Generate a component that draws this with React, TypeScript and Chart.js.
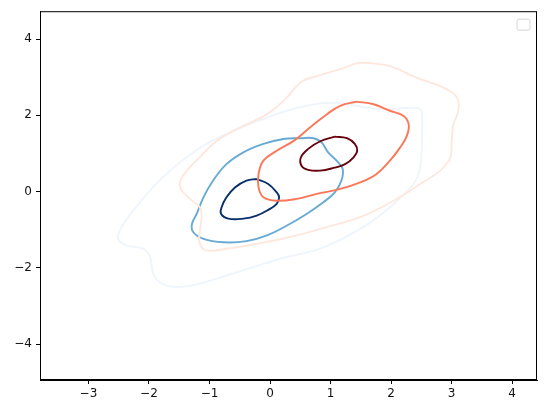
import React, { useEffect, useRef } from "react";
import { Chart, registerables } from "chart.js";

Chart.register(...registerables);

const xTicks = [-3, -2, -1, 0, 1, 2, 3, 4];
const yTicks = [-4, -2, 0, 2, 4];
const xRange = [-3.8, 4.41];
const yRange = [-4.94, 4.73];

// Contour levels for the "Blues" distribution
const blueOuter: number[][] = [
  [2.51, 2.12], [2.51, 1.51], [2.48, 0.64], [2.37, 0.2], [1.98, -0.41], [1.54, -0.93],
  [0.88, -1.46], [0.17, -1.76], [-0.28, -1.98], [-0.72, -2.2], [-1.16, -2.41], [-1.54, -2.5],
  [-1.79, -2.41], [-1.93, -2.15], [-1.98, -1.72], [-2.09, -1.5], [-2.37, -1.41], [-2.51, -1.24],
  [-2.45, -0.93], [-2.26, -0.5], [-1.98, 0.03], [-1.71, 0.46], [-1.38, 0.9], [-1.05, 1.25],
  [-0.72, 1.51], [-0.39, 1.73], [-0.05, 1.94], [0.28, 2.12], [0.61, 2.25], [0.94, 2.33],
  [1.27, 2.29], [1.6, 2.2], [1.93, 2.16], [2.26, 2.19], [2.45, 2.19],
];
const blueMid: number[][] = [
  [0.5, 1.4], [0.72, 1.4], [0.85, 1.29], [0.96, 1.03], [1.1, 0.81], [1.2, 0.59], [1.18, 0.29],
  [1.07, -0.02], [0.88, -0.28], [0.61, -0.58], [0.28, -0.89], [-0.05, -1.15], [-0.39, -1.3],
  [-0.77, -1.33], [-1.1, -1.24], [-1.27, -1.06], [-1.29, -0.85], [-1.21, -0.58], [-1.1, -0.15],
  [-0.94, 0.29], [-0.72, 0.72], [-0.44, 1.03], [-0.11, 1.25], [0.22, 1.38],
];
const blueInner: number[][] = [
  [-0.22, 0.33], [-0.03, 0.2], [0.11, -0.02], [0.15, -0.15], [0.11, -0.32], [-0.03, -0.48],
  [-0.22, -0.63], [-0.44, -0.71], [-0.69, -0.71], [-0.81, -0.58], [-0.8, -0.41], [-0.72, -0.15],
  [-0.58, 0.11], [-0.39, 0.29],
];

// Contour levels for the "Reds" distribution
const redOuter: number[][] = [
  [1.6, 3.38], [1.98, 3.29], [2.42, 2.99], [2.86, 2.73], [3.09, 2.47], [3.11, 2.12], [3.03, 1.77],
  [3.0, 1.33], [2.98, 0.9], [2.81, 0.55], [2.48, 0.2], [2.04, -0.24], [1.49, -0.67], [0.94, -0.93],
  [0.33, -1.19], [-0.22, -1.37], [-0.72, -1.5], [-1.05, -1.54], [-1.16, -1.37], [-1.16, -1.02],
  [-1.13, -0.67], [-1.16, -0.41], [-1.32, -0.19], [-1.46, 0.03], [-1.49, 0.24], [-1.4, 0.5],
  [-1.16, 0.9], [-0.88, 1.33], [-0.5, 1.68], [-0.05, 2.03], [0.28, 2.47], [0.5, 2.86],
  [0.77, 3.03], [1.16, 3.21], [1.43, 3.36],
];
const redMid: number[][] = [
  [1.43, 2.36], [1.71, 2.29], [1.98, 2.12], [2.2, 1.99], [2.29, 1.77], [2.26, 1.46], [2.15, 1.16],
  [1.98, 0.81], [1.76, 0.46], [1.49, 0.24], [1.16, 0.07], [0.77, -0.06], [0.44, -0.19],
  [0.11, -0.24], [-0.11, -0.15], [-0.19, 0.11], [-0.19, 0.46], [-0.11, 0.81], [0.11, 1.07],
  [0.39, 1.33], [0.66, 1.68], [0.94, 2.03], [1.16, 2.25],
];
const redInner: number[][] = [
  [1.07, 1.44], [1.27, 1.4], [1.4, 1.25], [1.44, 1.07], [1.38, 0.9], [1.24, 0.72], [1.05, 0.62],
  [0.83, 0.55], [0.63, 0.57], [0.52, 0.68], [0.51, 0.9], [0.63, 1.12], [0.83, 1.32],
];

const contours: [number[][], string][] = [
  [redInner, "#67000d"],
  [redMid, "#fb7757"],
  [redOuter, "#fee8de"],
  [blueInner, "#08306b"],
  [blueMid, "#67aad4"],
  [blueOuter, "#eef5fc"],
];

const fmt = (v: number) => (v < 0 ? "\u2212" + Math.abs(v) : String(v));

const framePlugin = {
  id: "frame",
  afterDraw(chart: any) {
    const { ctx, chartArea: a } = chart;
    ctx.save();
    ctx.strokeStyle = "#000";
    ctx.lineWidth = 1;
    ctx.strokeRect(a.left + 0.5, a.top + 0.5, a.right - a.left - 1, a.bottom - a.top - 1);
    // empty legend box
    const w = 13, h = 11, x = a.right - 20, y = a.top + 8, r = 2;
    ctx.beginPath();
    ctx.moveTo(x + r, y);
    ctx.arcTo(x + w, y, x + w, y + h, r);
    ctx.arcTo(x + w, y + h, x, y + h, r);
    ctx.arcTo(x, y + h, x, y, r);
    ctx.arcTo(x, y, x + w, y, r);
    ctx.closePath();
    ctx.fillStyle = "rgba(255,255,255,0.8)";
    ctx.fill();
    ctx.strokeStyle = "#d6d6d6";
    ctx.stroke();
    ctx.restore();
  },
};

export default function App() {
  const ref = useRef<HTMLCanvasElement>(null);
  useEffect(() => {
    const datasets = contours.map(([pts, color]) => {
      const data = pts.map((p) => ({ x: p[0], y: p[1] }));
      data.push({ x: pts[0][0], y: pts[0][1] });
      return {
        data,
        showLine: true,
        borderColor: color,
        backgroundColor: color,
        borderWidth: 1.9,
        pointRadius: 0,
        tension: 0.4,
        fill: false,
      };
    });
    const font = { family: "DejaVu Sans", size: 12 };
    const chart = new Chart(ref.current!, {
      type: "scatter",
      data: { datasets },
      plugins: [framePlugin],
      options: {
        animation: false,
        responsive: false,
        maintainAspectRatio: false,
        layout: { padding: { top: 10, right: 9, left: 0, bottom: 0 } },
        plugins: { legend: { display: false }, tooltip: { enabled: false } },
        scales: {
          x: {
            type: "linear",
            min: xRange[0],
            max: xRange[1],
            afterBuildTicks: (s: any) => { s.ticks = xTicks.map((v) => ({ value: v })); },
            afterFit: (s: any) => { s.height = 33; },
            grid: { drawOnChartArea: false, drawTicks: true, tickLength: 4, color: "#000" },
            border: { display: true, color: "#000" },
            ticks: { color: "#111", font, padding: 3, maxRotation: 0, callback: (v: any) => fmt(Number(v)) },
          },
          y: {
            type: "linear",
            min: yRange[0],
            max: yRange[1],
            afterBuildTicks: (s: any) => { s.ticks = yTicks.map((v) => ({ value: v })); },
            afterFit: (s: any) => { s.width = 40; },
            grid: { drawOnChartArea: false, drawTicks: true, tickLength: 4, color: "#000" },
            border: { display: true, color: "#000" },
            ticks: { color: "#111", font, padding: 4, callback: (v: any) => fmt(Number(v)) },
          },
        },
      },
    });
    return () => chart.destroy();
  }, []);
  return (
    <div style={{ position: "absolute", left: 0, top: 0, width: 546, height: 413, background: "#fff" }}>
      <canvas ref={ref} width={546} height={413} style={{ display: "block" }} />
    </div>
  );
}
